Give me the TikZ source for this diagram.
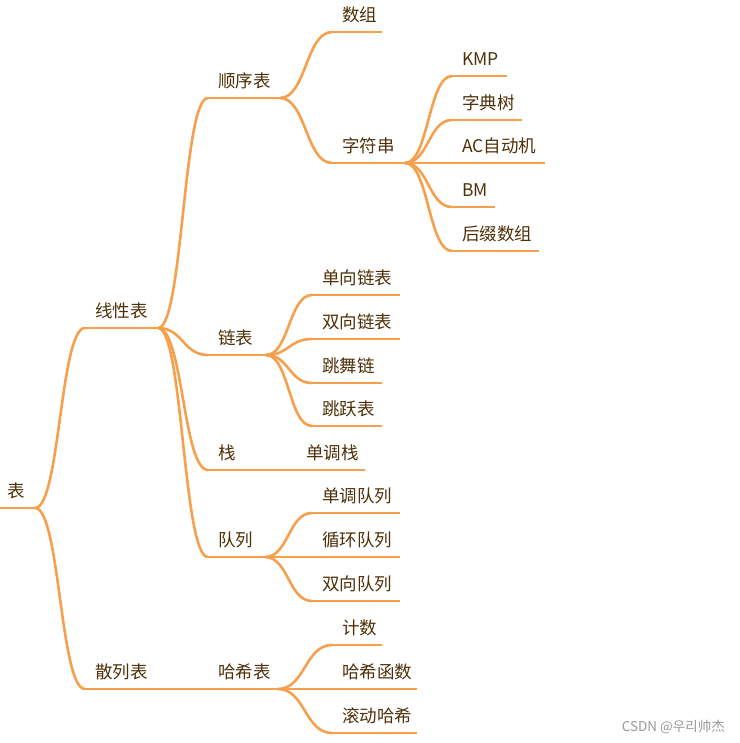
\documentclass[tikz,border=0pt]{standalone}
\usepackage{fontspec}
\setmainfont{Noto Sans CJK SC}
\usetikzlibrary{calc}

\definecolor{branchorange}{HTML}{F6A04D}
\definecolor{topicbrown}{HTML}{4F3008}
\definecolor{markgray}{HTML}{999999}

% topic: name, left x, right x, underline y, text
\newcommand\topic[5]{%
  \coordinate (#1-l) at (#2,#4);
  \coordinate (#1-r) at (#3,#4);
  \draw[topicline] (#1-l) -- (#1-r);
  \node[topictext] (#1) at ($(#1-l)+(10,-17)$) {#5};}
% branch from the end of one underline to the start of the next
\newcommand\branch[2]{%
  \draw[topicline] let \p1=(#1-r), \p2=(#2-l) in
    (\p1) .. controls ({0.5*\x1+0.5*\x2},\y1) and ({0.5*\x1+0.5*\x2},\y2) .. (\p2);}

\begin{document}
\begin{tikzpicture}[x=1pt, y=-1pt,
    topicline/.style={branchorange, line width=2.6pt},
    topictext/.style={anchor=west, inner sep=0pt, text=topicbrown,
      font=\fontsize{17.5}{20}\selectfont}]
    \useasboundingbox (0,0) rectangle (739,743);

    % root and first level
    \topic{biao}{-3}{35}{508}{表}
    \topic{xianxing}{85}{158}{328}{线性表}
    \topic{sanlie}{85}{160}{689}{散列表}

    % second level
    \topic{shunxu}{208}{280}{98}{顺序表}
    \topic{lianbiao}{208}{266}{355}{链表}
    \topic{zhan}{208}{290}{470}{栈}
    \topic{duilie}{208}{265}{557}{队列}
    \topic{haxi}{208}{278}{689}{哈希表}

    % leaves
    \topic{shuzu}{332}{382}{32}{数组}
    \topic{zifu}{332}{405}{163}{字符串}
    \topic{kmp}{452}{507}{76}{KMP}
    \topic{zidian}{452}{522}{120}{字典树}
    \topic{ac}{452}{545}{163}{AC自动机}
    \topic{bm}{452}{495}{207}{BM}
    \topic{houzhui}{452}{539}{251}{后缀数组}
    \topic{danxiang}{312}{400}{295}{单向链表}
    \topic{shuangxiang}{312}{400}{339}{双向链表}
    \topic{tiaowu}{312}{382}{383}{跳舞链}
    \topic{tiaoyue}{312}{382}{426}{跳跃表}
    \topic{dandiaozhan}{296}{365}{470}{单调栈}
    \topic{dandiaodui}{312}{400}{513}{单调队列}
    \topic{xunhuan}{312}{400}{557}{循环队列}
    \topic{shuangdui}{312}{400}{601}{双向队列}
    \topic{jishu}{332}{382}{645}{计数}
    \topic{hanshu}{332}{417}{689}{哈希函数}
    \topic{gundong}{332}{417}{733}{滚动哈希}

    \branch{biao}{xianxing}
    \branch{biao}{sanlie}
    \branch{xianxing}{shunxu}
    \branch{xianxing}{lianbiao}
    \branch{xianxing}{zhan}
    \branch{xianxing}{duilie}
    \branch{sanlie}{haxi}
    \branch{shunxu}{shuzu}
    \branch{shunxu}{zifu}
    \branch{zifu}{kmp}
    \branch{zifu}{zidian}
    \branch{zifu}{ac}
    \branch{zifu}{bm}
    \branch{zifu}{houzhui}
    \branch{lianbiao}{danxiang}
    \branch{lianbiao}{shuangxiang}
    \branch{lianbiao}{tiaowu}
    \branch{lianbiao}{tiaoyue}
    \branch{zhan}{dandiaozhan}
    \branch{duilie}{dandiaodui}
    \branch{duilie}{xunhuan}
    \branch{duilie}{shuangdui}
    \branch{haxi}{jishu}
    \branch{haxi}{hanshu}
    \branch{haxi}{gundong}

    \node[anchor=east, inner sep=0pt, text=markgray,
      font=\fontsize{13.5}{15}\selectfont] (mark) at (725,727) {CSDN @우리帅杰};
\end{tikzpicture}
\end{document}
